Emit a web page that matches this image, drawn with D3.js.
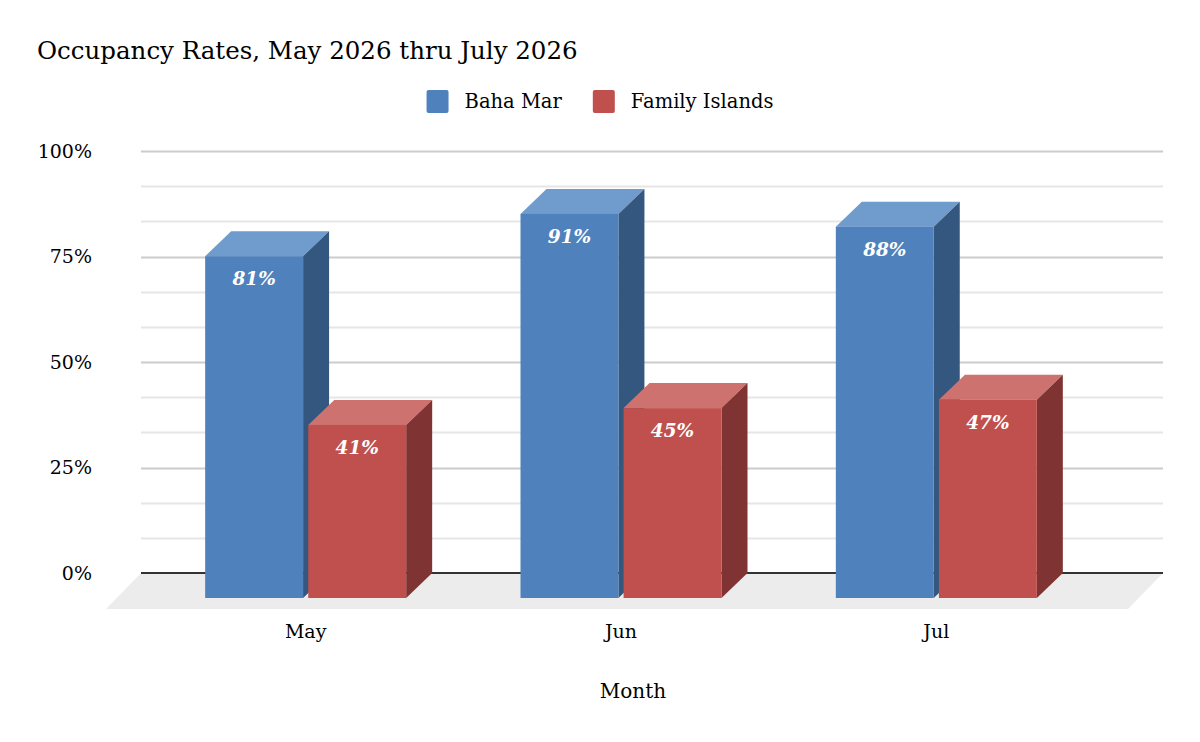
<!DOCTYPE html>
<html>
<head>
<meta charset="utf-8">
<script src="https://cdn.jsdelivr.net/npm/d3@7"></script>
<style>
  body { margin: 0; background: #fff; }
  svg text { font-family: "DejaVu Serif", "Liberation Serif", serif; fill: #000; }
</style>
</head>
<body>
<svg id="chart" width="1200" height="742"></svg>
<script>
// chart data
var months = ["May", "Jun", "Jul"];
var series = ["Baha Mar", "Family Islands"];
var baha_mar = [0.81, 0.91, 0.88];
var family_islands = [0.41, 0.45, 0.47];
var y_ticks = [0, 0.25, 0.5, 0.75, 1];

var series_colors = {
    "Baha Mar": { front: "#4f81bd", top: "#6f9bcd", side: "#33577f" },
    "Family Islands": { front: "#c0504d", top: "#cd726f", side: "#7f3332" }
};

const FONT = "DejaVu Serif, Liberation Serif, serif";
const DEPTH_X = 26;
const DEPTH_Y = 25;
const GROUP_WIDTH = 201;

var svg = d3.select("svg#chart");

var y = d3.scaleLinear().domain([0, 1]).range([573, 151]);
var x0 = d3.scaleBand().domain(months).range([148, 1094]);
var x1 = d3.scaleBand().domain(series).range([0, GROUP_WIDTH]).paddingInner(0.05);

// title
svg.append("text")
    .attr("x", 37)
    .attr("y", 59)
    .style("font-size", "24.5px")
    .text("Occupancy Rates, May 2026 thru July 2026");

// legend
var legend = svg.append("g").attr("transform", "translate(0,90)");
var legend_items = legend.selectAll("g")
    .data(series)
    .join("g");
legend_items.append("rect")
    .attr("width", 22)
    .attr("height", 23)
    .attr("rx", 2)
    .attr("fill", d => series_colors[d].front);
legend_items.append("text")
    .attr("x", 38)
    .attr("y", 18)
    .style("font-size", "19.5px")
    .text(d => d);

var legend_x = 0;
var legend_pos = [];
legend_items.each(function(d) {
    legend_pos.push(legend_x);
    legend_x += 38 + d3.select(this).select("text").node().getComputedTextLength() + 31;
});
legend_x -= 31;
var legend_start = 600 - legend_x / 2;
legend_items.attr("transform", (d, i) => "translate(" + (legend_start + legend_pos[i]) + ",0)");

// gridlines, 2 minor between each major
var grid_values = d3.range(0, 13).map(i => i / 12);
svg.append("g")
    .selectAll("line")
    .data(grid_values.filter(v => v > 0))
    .join("line")
    .attr("x1", 141)
    .attr("x2", 1163)
    .attr("y1", d => Math.round(y(d)) + 0.5)
    .attr("y2", d => Math.round(y(d)) + 0.5)
    .style("stroke", (d, i) => (i + 1) % 3 == 0 ? "#cccccc" : "#e6e6e6")
    .style("stroke-width", 2);

// floor
var floor_back = y(0);
var floor_front = y(0) + 36;
svg.append("polygon")
    .attr("points", [
        [141, floor_back], [1163, floor_back],
        [1163 - 35, floor_front], [141 - 35, floor_front]
    ].map(p => p.join(",")).join(" "))
    .attr("fill", "#ececec");

svg.append("line")
    .attr("x1", 141)
    .attr("x2", 1163)
    .attr("y1", y(0))
    .attr("y2", y(0))
    .style("stroke", "#333333")
    .style("stroke-width", 2);

// y axis
var y_axis = svg.append("g")
    .attr("transform", "translate(141,0)")
    .call(d3.axisLeft(y).tickValues(y_ticks).tickFormat(d3.format(".0%")).tickSize(0).tickPadding(49));
y_axis.select(".domain").remove();
y_axis.selectAll("text")
    .style("font-size", "19px")
    .style("font-family", FONT)
    .attr("fill", "#000");

// bars
var bar_data = [];
months.forEach((m, i) => {
    bar_data.push({ month: m, series: "Baha Mar", value: baha_mar[i] });
    bar_data.push({ month: m, series: "Family Islands", value: family_islands[i] });
});

var group_offset = (x0.bandwidth() - GROUP_WIDTH) / 2;

var bars = svg.append("g")
    .selectAll("g")
    .data(bar_data)
    .join("g")
    .attr("transform", d => "translate(" + (x0(d.month) + group_offset + x1(d.series)) + "," + DEPTH_Y + ")");

var w = x1.bandwidth();

bars.append("polygon")
    .attr("points", d => {
        var t = y(d.value);
        return [[0, t], [w, t], [w + DEPTH_X, t - DEPTH_Y], [DEPTH_X, t - DEPTH_Y]].map(p => p.join(",")).join(" ");
    })
    .attr("fill", d => series_colors[d.series].top);

bars.append("polygon")
    .attr("points", d => {
        var t = y(d.value);
        var b = y(0);
        return [[w, t], [w + DEPTH_X, t - DEPTH_Y], [w + DEPTH_X, b - DEPTH_Y], [w, b]].map(p => p.join(",")).join(" ");
    })
    .attr("fill", d => series_colors[d.series].side);

bars.append("rect")
    .attr("x", 0)
    .attr("y", d => y(d.value))
    .attr("width", w)
    .attr("height", d => y(0) - y(d.value))
    .attr("fill", d => series_colors[d.series].front);

bars.append("text")
    .attr("x", w / 2)
    .attr("y", d => y(d.value) + 29)
    .attr("text-anchor", "middle")
    .style("font-size", "18.5px")
    .style("font-style", "italic")
    .style("font-weight", "bold")
    .style("fill", "#ffffff")
    .text(d => d3.format(".0%")(d.value));

// x axis
var x_axis = svg.append("g")
    .attr("transform", "translate(0," + floor_front + ")")
    .call(d3.axisBottom(x0).tickSize(0).tickPadding(16));
x_axis.select(".domain").remove();
x_axis.selectAll("text")
    .style("font-size", "19px")
    .style("font-family", FONT)
    .attr("fill", "#000");

svg.append("text")
    .attr("x", 633)
    .attr("y", 698)
    .attr("text-anchor", "middle")
    .style("font-size", "20px")
    .text("Month");
</script>
</body>
</html>
